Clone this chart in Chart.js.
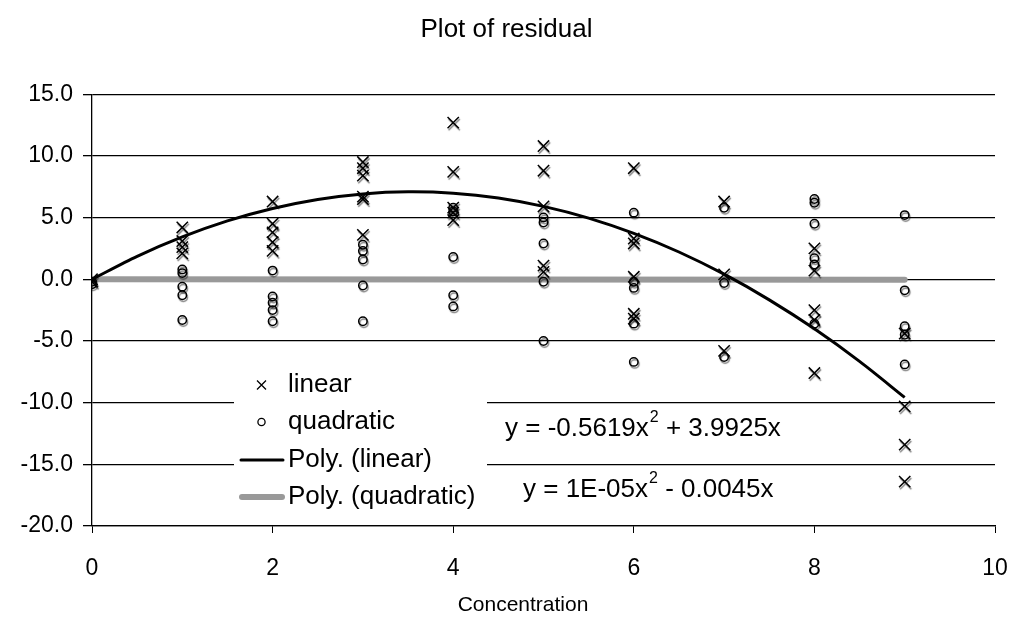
<!DOCTYPE html>
<html>
<head>
<meta charset="utf-8">
<script src="https://cdn.jsdelivr.net/npm/chart.js@4.4.1/dist/chart.umd.min.js"></script>
<style>
  html, body { margin: 0; padding: 0; background: #fff; }
  #wrap { width: 1013px; height: 618px; }
</style>
</head>
<body>
<div id="wrap"><canvas id="resid"></canvas></div>
<script>
/* Plot of residual */
const concentrations = [0, 1, 2, 3, 4, 5, 6, 7, 8, 9];
const linearResid = [
  [0.0, -0.2],
  [4.2, 3.1, 2.6, 2.1],
  [6.3, 4.5, 3.8, 3.0, 2.3],
  [9.5, 9.0, 8.4, 6.7, 6.5, 3.6],
  [12.7, 8.7, 5.8, 5.4, 4.8],
  [10.8, 8.8, 5.9, 1.1, 0.6],
  [9.0, 3.3, 2.9, 0.2, -2.8, -3.2],
  [6.3, 0.4, -5.8],
  [2.5, 0.7, -2.5, -3.3, -7.6],
  [-4.4, -10.3, -13.4, -16.4]
];
const quadResid = [
  [-0.2, -0.4],
  [0.8, 0.5, -0.6, -1.3, -3.3],
  [0.7, -1.4, -1.9, -2.5, -3.4],
  [2.8, 2.3, 1.6, -0.5, -3.4],
  [5.8, 5.5, 1.8, -1.3, -2.2],
  [5.0, 4.6, 2.9, -0.2, -5.0],
  [5.4, -0.2, -0.7, -3.6, -6.7],
  [5.8, -0.3, -6.3],
  [6.5, 6.2, 4.5, 1.7, 1.2, -3.6],
  [5.2, -0.9, -3.8, -4.5, -6.9]
];
// trend lines
const trendX = [0, 0.5, 1, 1.5, 2, 2.5, 3, 3.5, 4, 4.5, 5, 5.5, 6, 6.5, 7, 7.5, 8, 8.5, 9];
const trendLinear = [0, 1.86, 3.43, 4.73, 5.74, 6.47, 6.92, 7.09, 6.98, 6.59, 5.91, 4.96, 3.72, 2.21, 0.41, -1.67, -4.02, -6.66, -9.58];
const trendQuadX = [0, 9];
const trendQuad = [0, -0.04];
const seriesNames = ['linear', 'quadratic', 'Poly. (linear)', 'Poly. (quadratic)'];
const equations = [['y = -0.5619x', '2', ' + 3.9925x'], ['y = 1E-05x', '2', ' - 0.0045x']];
const xTicks = [0, 2, 4, 6, 8, 10];
const yTicks = [15, 10, 5, 0, -5, -10, -15, -20];

const FONT = "'Liberation Sans', Arial, sans-serif";
const GREY = '#999999';

function toPoints(groups) {
  return groups.flatMap((vals, i) => vals.map(v => ({ x: concentrations[i], y: v })));
}

const shadowPlugin = {
  id: 'shadow',
  beforeDatasetDraw(chart, args) {
    if (args.index > 1) return;
    const ctx = chart.ctx;
    ctx.save();
    ctx.shadowColor = 'rgba(0,0,0,0.5)';
    ctx.shadowOffsetX = 1;
    ctx.shadowOffsetY = 2;
    ctx.shadowBlur = 1;
  },
  afterDatasetDraw(chart, args) {
    if (args.index > 1) return;
    chart.ctx.restore();
  }
};

const boxPlugin = {
  id: 'box',
  afterDraw(chart) {
    const ctx = chart.ctx;
    ctx.save();
    // axis title
    ctx.fillStyle = '#000';
    ctx.font = '21px ' + FONT;
    ctx.textAlign = 'center';
    ctx.textBaseline = 'middle';
    ctx.fillText('Concentration', 523, 605);

    // legend box
    ctx.fillStyle = '#fff';
    ctx.fillRect(234, 362, 253, 156);
    ctx.font = '26px ' + FONT;
    ctx.textAlign = 'left';
    const rowY = [385, 422, 460, 497];
    const tx = 288;
    ctx.strokeStyle = '#000';
    ctx.lineWidth = 1.3;
    ctx.beginPath();
    ctx.moveTo(257, rowY[0] - 4.5); ctx.lineTo(266, rowY[0] + 4.5);
    ctx.moveTo(266, rowY[0] - 4.5); ctx.lineTo(257, rowY[0] + 4.5);
    ctx.stroke();
    ctx.beginPath();
    ctx.arc(261.5, rowY[1], 3.6, 0, Math.PI * 2);
    ctx.stroke();
    ctx.lineCap = 'round';
    ctx.lineWidth = 3;
    ctx.beginPath(); ctx.moveTo(241, rowY[2]); ctx.lineTo(283, rowY[2]); ctx.stroke();
    ctx.strokeStyle = GREY;
    ctx.lineWidth = 6;
    ctx.beginPath(); ctx.moveTo(242, rowY[3]); ctx.lineTo(282, rowY[3]); ctx.stroke();
    ctx.fillStyle = '#000';
    seriesNames.forEach((n, i) => ctx.fillText(n, tx, rowY[i]));

    // trendline equations
    const drawEq = (parts, x, y) => {
      ctx.font = '26px ' + FONT;
      ctx.fillText(parts[0], x, y);
      x += ctx.measureText(parts[0]).width;
      ctx.font = '16px ' + FONT;
      ctx.fillText(parts[1], x + 1, y - 11);
      x += ctx.measureText(parts[1]).width + 1;
      ctx.font = '26px ' + FONT;
      ctx.fillText(parts[2], x, y);
    };
    drawEq(equations[0], 505, 429);
    drawEq(equations[1], 523, 490);
    ctx.restore();
  }
};

const chart = new Chart(document.getElementById('resid'), {
  type: 'scatter',
  data: {
    datasets: [
      {
        label: seriesNames[0],
        data: toPoints(linearResid),
        pointStyle: 'crossRot',
        pointRadius: 8,
        borderColor: '#000',
        borderWidth: 1.5,
        backgroundColor: '#000'
      },
      {
        label: seriesNames[1],
        data: toPoints(quadResid),
        pointStyle: 'circle',
        pointRadius: 4.2,
        borderColor: '#000',
        borderWidth: 1.5,
        backgroundColor: 'rgba(255,255,255,0)'
      },
      {
        label: seriesNames[2],
        type: 'line',
        data: trendX.map((x, i) => ({ x, y: trendLinear[i] })),
        borderColor: '#000',
        borderWidth: 3,
        pointRadius: 0,
        tension: 0.3,
        fill: false
      },
      {
        label: seriesNames[3],
        type: 'line',
        data: trendQuadX.map((x, i) => ({ x, y: trendQuad[i] })),
        borderColor: GREY,
        borderWidth: 6,
        borderCapStyle: 'round',
        pointRadius: 0,
        fill: false
      }
    ]
  },
  options: {
    responsive: true,
    maintainAspectRatio: false,
    animation: false,
    layout: { padding: { left: 0, right: 0, top: 0, bottom: 0 } },
    plugins: {
      legend: { display: false },
      tooltip: { enabled: false },
      title: {
        display: true,
        text: 'Plot of residual',
        color: '#000',
        font: { family: FONT, size: 26, weight: 'normal' },
        padding: { top: 14, bottom: 49 }
      }
    },
    scales: {
      x: {
        type: 'linear',
        min: 0,
        max: 10,
        afterBuildTicks(scale) { scale.ticks = xTicks.map(v => ({ value: v })); },
        afterFit(scale) {
          scale.height = 92;
          scale.paddingLeft = 0;
          scale.paddingRight = 18;
        },
        grid: { drawOnChartArea: false, drawTicks: true, tickLength: 7, color: '#000', lineWidth: 1 },
        border: { display: true, color: '#000', width: 1.3 },
        ticks: {
          color: '#000',
          padding: 22,
          maxRotation: 0,
          font: { family: FONT, size: 23 },
          callback: v => String(v)
        }
      },
      y: {
        min: -20,
        max: 15,
        afterBuildTicks(scale) { scale.ticks = yTicks.map(v => ({ value: v })); },
        afterFit(scale) { scale.width = 92; },
        grid: { color: '#000', lineWidth: 1.3, tickLength: 9, drawTicks: true },
        border: { display: true, color: '#000', width: 1.3 },
        ticks: {
          color: '#000',
          padding: 10,
          font: { family: FONT, size: 23 },
          callback: v => v.toFixed(1)
        }
      }
    }
  },
  plugins: [shadowPlugin, boxPlugin]
});
</script>
</body>
</html>
